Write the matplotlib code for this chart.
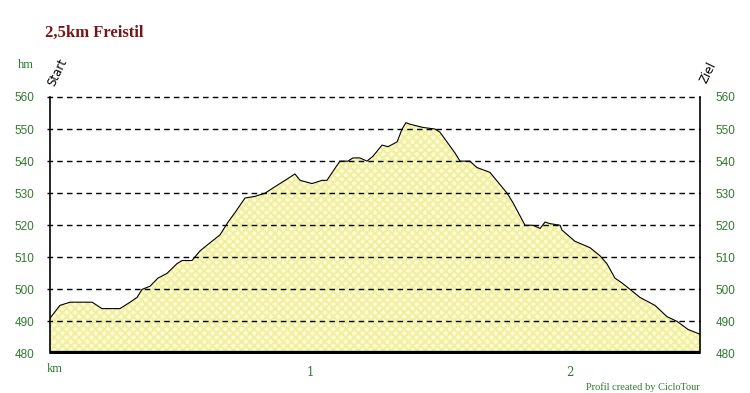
import matplotlib
matplotlib.use('Agg')
import matplotlib.pyplot as plt

# distance (km) / elevation (m)
dist = [0.000, 0.038, 0.077, 0.162, 0.200, 0.269, 0.308, 0.335, 0.354, 0.385,
        0.415, 0.450, 0.488, 0.508, 0.546, 0.577, 0.615, 0.654, 0.685, 0.712,
        0.750, 0.788, 0.827, 0.865, 0.904, 0.942, 0.962, 1.008, 1.046, 1.065,
        1.115, 1.146, 1.165, 1.192, 1.219, 1.242, 1.277, 1.300, 1.335, 1.354,
        1.369, 1.385, 1.435, 1.481, 1.500, 1.558, 1.577, 1.615, 1.642, 1.692,
        1.758, 1.781, 1.827, 1.858, 1.885, 1.904, 1.923, 1.962, 1.969, 2.019,
        2.077, 2.115, 2.142, 2.173, 2.200, 2.231, 2.269, 2.327, 2.373, 2.412,
        2.454, 2.500]
elev = [491, 495, 496, 496, 494, 494, 496, 497.5, 500, 501,
        503.5, 505, 508, 509, 509, 512, 514.5, 517, 521, 524,
        528.5, 529, 530, 532, 534, 536, 534, 533, 534, 534,
        540, 540, 541, 541, 540, 541.5, 545, 544.5, 546, 550,
        552, 551.5, 550.5, 550, 549, 542.5, 540, 540, 538, 536.5,
        530, 527, 520, 520, 519, 521, 520.5, 520, 518.5, 515,
        513, 510.5, 508, 503.5, 502, 500, 497.5, 495, 491.5, 490,
        487.5, 486]
km_ticks = [1, 2]
hm_ticks = [480, 490, 500, 510, 520, 530, 540, 550, 560]

green = '#2f7a2f'
plt.rcParams['hatch.linewidth'] = 1.6

fig = plt.figure(figsize=(7.5, 3.93), dpi=100)
ax = fig.add_axes([50/750, 1-353.5/393, 650/750, 256.5/393])

# hatched yellow area
ax.fill_between(dist, 480, elev, facecolor='#fffed0', edgecolor='#f1efa6',
                hatch='xxxx', linewidth=0)
ax.plot(dist, elev, color='black', lw=0.8)

for h in hm_ticks[1:]:
    ax.axhline(h, color='black', lw=1.0, ls=(0, (4, 3)), xmin=-0.004, clip_on=False, zorder=2)
ax.axhline(480, color='black', lw=3.8, zorder=3)

ax.set_xlim(0, 2.5)
ax.set_ylim(480, 560)
for s in ['top', 'bottom']:
    ax.spines[s].set_visible(False)
ax.spines['left'].set_linewidth(1.2)
ax.spines['right'].set_linewidth(1.2)

ax.set_yticks(hm_ticks)
ax.tick_params(axis='y', length=0, pad=11, labelcolor=green, labelsize=8.5,
               right=False, labelright=True)
ax.set_xticks(km_ticks)
ax.set_xticklabels(['1', '2'], fontfamily='DejaVu Serif')
ax.tick_params(axis='x', length=0, pad=9, labelcolor=green, labelsize=8.5)
for lab in ax.get_yticklabels():
    lab.set_fontfamily('Liberation Sans')

fig.text(45/750, 1-33/393, '2,5km Freistil', color='#7a1515', fontsize=12,
         fontweight='bold', fontfamily='Liberation Serif', va='center', ha='left')
fig.text(18/750, 1-65/393, 'hm', color=green, fontsize=9,
         fontfamily='Liberation Serif', va='center', ha='left')
fig.text(47/750, 1-369/393, 'km', color=green, fontsize=9,
         fontfamily='Liberation Serif', va='center', ha='left')
fig.text(700/750, 1-387/393, 'Profil created by CicloTour', color=green, fontsize=7.5,
         fontfamily='Liberation Serif', va='center', ha='right')
fig.text(57/750, 1-72/393, 'Start', rotation=64, fontsize=8.5, color='black',
         fontfamily='DejaVu Sans', va='center', ha='center')
fig.text(708/750, 1-73/393, 'Ziel', rotation=64, fontsize=8.5, color='black',
         fontfamily='DejaVu Sans', va='center', ha='center')

fig.savefig('out.png', dpi=100)
